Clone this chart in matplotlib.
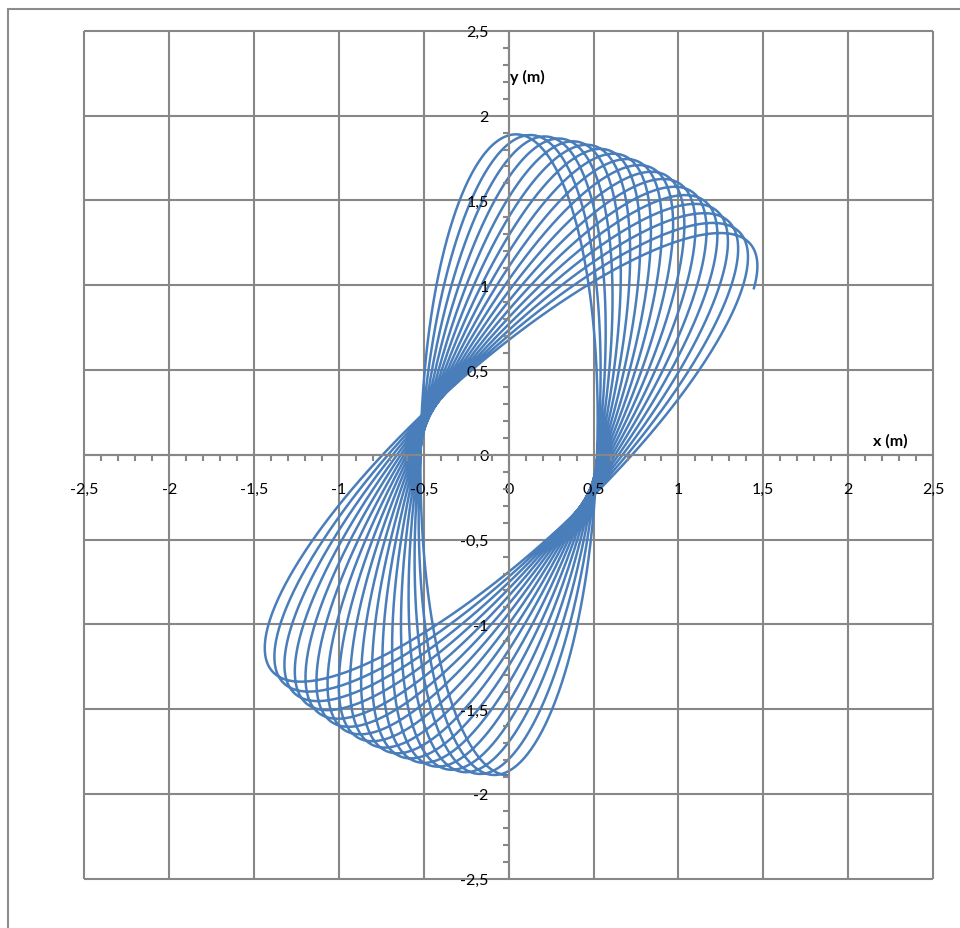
import numpy as np
import matplotlib
matplotlib.use("Agg")
import matplotlib.pyplot as plt
from matplotlib.patches import Rectangle
from matplotlib.ticker import MultipleLocator, FuncFormatter

plt.rcParams['font.family'] = ['Lato', 'DejaVu Sans']

# values
semi_axes = [1.89, 0.52]      # semi-major, semi-minor of the loops (m)
tilt_deg = [0.0, 49.0]        # tilt of first and last loop, clockwise from vertical
phase_turns = [0.5, 18.065]   # start at bottom of first loop, end past the last tip
x_ticks = [-2.5, -2, -1.5, -1, -0.5, 0, 0.5, 1, 1.5, 2, 2.5]
y_ticks = [-2.5, -2, -1.5, -1, -0.5, 0, 0.5, 1, 1.5, 2, 2.5]

GRID = '#878787'
BLUE = '#4A7EBB'

# precessing ellipse (pendulum path)
t = np.linspace(phase_turns[0], phase_turns[1], 8000) * 2 * np.pi
th = np.radians(np.interp(t, [t[0], t[-1]], tilt_deg))
a, b = semi_axes
x = a * np.cos(t) * np.sin(th) + b * np.sin(t) * np.cos(th)
y = a * np.cos(t) * np.cos(th) - b * np.sin(t) * np.sin(th)

fig = plt.figure(figsize=(9.6, 9.29), dpi=100)
ax = fig.add_axes([84.5 / 960, 49.2 / 929, 848.5 / 960, 848 / 929])
ax.set_xlim(x_ticks[0], x_ticks[-1])
ax.set_ylim(y_ticks[0], y_ticks[-1])
ax.set_axisbelow(False)

# chart area border (runs off the right and bottom edges)
fig.patches.append(Rectangle((8.3 / 960, -0.1), 2, 1 - 10.3 / 929 + 0.1,
                             transform=fig.transFigure, fill=False,
                             edgecolor='#8c8c8c', lw=1.5))

ax.vlines(x_ticks, y_ticks[0], y_ticks[-1], colors=GRID, lw=1.5, clip_on=False, zorder=1)
ax.hlines(y_ticks, x_ticks[0], x_ticks[-1], colors=GRID, lw=1.5, clip_on=False, zorder=1)

ax.plot(x, y, color=BLUE, lw=1.8, zorder=2, solid_joinstyle='round')

for s in ['top', 'right']:
    ax.spines[s].set_visible(False)
for s in ['left', 'bottom']:
    ax.spines[s].set_position(('data', 0))
    ax.spines[s].set_color(GRID)
    ax.spines[s].set_linewidth(1.5)
    ax.spines[s].set_zorder(2.6)

fmt = FuncFormatter(lambda v, p: ('%g' % v).replace('.', ','))
ax.set_xticks(x_ticks)
ax.set_yticks(y_ticks)
ax.xaxis.set_major_formatter(fmt)
ax.yaxis.set_major_formatter(fmt)
ax.xaxis.set_minor_locator(MultipleLocator(0.1))
ax.yaxis.set_minor_locator(MultipleLocator(0.1))
ax.tick_params(which='major', length=0, labelsize=11.5, colors='black')
ax.tick_params(axis='x', which='major', pad=19.5)
ax.tick_params(axis='y', which='major', pad=14.5)
ax.tick_params(which='minor', length=4.5, width=1.5, color=GRID, direction='out')

ax.text(0.01, 2.233, 'y (m)', fontsize=11.5, fontweight='bold', ha='left', va='center')
ax.text(2.25, 0.087, 'x (m)', fontsize=11.5, fontweight='bold', ha='center', va='center')

fig.savefig('out.png', dpi=100)
